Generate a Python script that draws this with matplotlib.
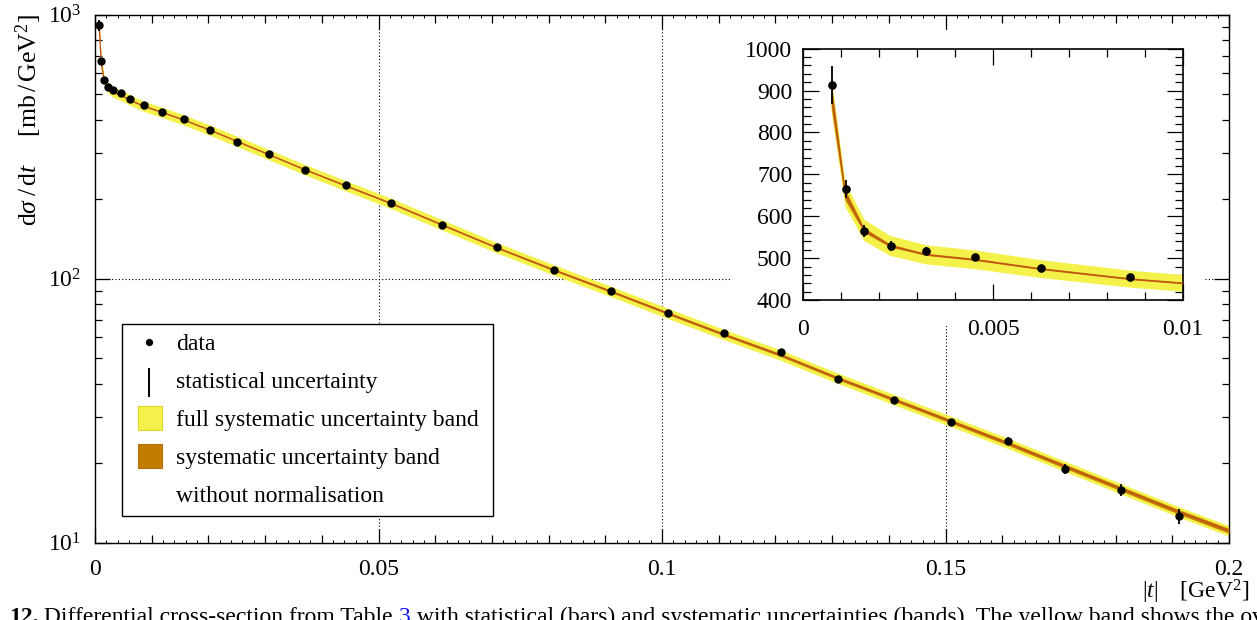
import matplotlib
matplotlib.use('Agg')
import matplotlib.pyplot as plt
import numpy as np
from matplotlib.patches import Rectangle
from matplotlib.lines import Line2D
from matplotlib.ticker import FixedLocator, MultipleLocator, FixedFormatter, NullFormatter

plt.rcParams['font.family'] = ['Liberation Serif', 'DejaVu Serif']
plt.rcParams['mathtext.fontset'] = 'custom'
plt.rcParams['mathtext.rm'] = 'Liberation Serif'
plt.rcParams['mathtext.it'] = 'Liberation Serif:italic'
plt.rcParams['mathtext.bf'] = 'Liberation Serif:bold'

# ---------------- data ----------------
t_data = [0.000745, 0.00111, 0.00161, 0.00230, 0.00324, 0.00453, 0.00626, 0.00861,
          0.0118, 0.0157, 0.0202, 0.0251, 0.0307, 0.0370, 0.0442, 0.0522, 0.0612,
          0.0709, 0.0809, 0.0910, 0.1010, 0.1109, 0.1210, 0.1310, 0.1410, 0.1510,
          0.1610, 0.1710, 0.1810, 0.1911]
dsig_data = [913, 665, 565, 530, 517, 503, 477, 454,
             428, 401, 367, 330, 296, 259, 226, 194, 159,
             131.5, 108, 90.1, 73.9, 62.1, 52.6, 41.6, 34.6, 28.7,
             24.3, 19.0, 15.9, 12.6]
stat_err = [44.6, 21.3, 14.0, 12.0, 8.8, 6.0, 6.0, 6.0,
            4.0, 4.0, 3.0, 3.0, 3.0, 2.5, 2.5, 2.0, 2.0,
            1.5, 1.3, 1.2, 1.0, 1.0, 0.9, 0.8, 0.8, 0.8,
            0.85, 0.85, 0.85, 0.83]

t_band = [0.000745, 0.00111, 0.00161, 0.00230, 0.00324, 0.00453, 0.00626, 0.00861,
          0.0118, 0.0157, 0.0202, 0.0251, 0.0307, 0.0370, 0.0442, 0.0522, 0.0612,
          0.0709, 0.0809, 0.0910, 0.1010, 0.1109, 0.1210, 0.1310, 0.1410, 0.1510,
          0.1610, 0.1710, 0.1810, 0.1911, 0.2000]
band_central = [890, 651, 566, 529, 508, 496, 474, 450,
                427, 399, 366, 331, 295, 259, 225, 193, 160,
                131, 108, 89.5, 74.0, 61.5, 51.3, 42.0, 34.8, 28.8,
                23.8, 19.5, 16.0, 13.1, 11.1]
full_sys_rel = [0.045] * 31
sys_rel = [0.035, 0.020, 0.010, 0.007, 0.005, 0.005, 0.005, 0.005,
           0.005, 0.005, 0.005, 0.005, 0.005, 0.006, 0.006, 0.007, 0.007,
           0.008, 0.009, 0.010, 0.011, 0.012, 0.013, 0.014, 0.015, 0.016,
           0.017, 0.018, 0.019, 0.020, 0.021]

main_xticks = [0, 0.05, 0.1, 0.15, 0.2]
main_xticklabels = ['0', '0.05', '0.1', '0.15', '0.2']
inset_xticks = [0, 0.005, 0.01]
inset_xticklabels = ['0', '0.005', '0.01']
inset_yticks = [400, 500, 600, 700, 800, 900, 1000]
inset_yticklabels = ['400', '500', '600', '700', '800', '900', '1000']

legend_labels = ['data', 'statistical uncertainty', 'full systematic uncertainty band',
                 'systematic uncertainty band', 'without normalisation']

caption_parts = [('12.', 'bold', 'black'),
                 (' Differential cross-section from Table ', 'normal', 'black'),
                 ('3', 'normal', '#1010ee'),
                 (' with statistical (bars) and systematic uncertainties (bands). The yellow band shows the overall',
                  'normal', 'black')]

YELLOW = '#f4f24a'
YELLOW_EDGE = '#dcd42a'
BROWN = '#c27d00'
LINE = '#c4501c'
FS = 17

W, H = 1257, 620


def fx(px):
    return px / W


def fy(py):
    return 1 - py / H


fig = plt.figure(figsize=(W / 100, H / 100), dpi=100)

# ---------------- main axes ----------------
L, R, T, B = 95, 1229, 14.6, 542.7
ax = fig.add_axes([fx(L), fy(B), fx(R) - fx(L), fy(T) - fy(B)])
ax.set_zorder(0)
ax.set_xlim(0, 0.2)
ax.set_yscale('log')
ax.set_ylim(10, 1000)

tb = np.array(t_band)
bc = np.array(band_central)
fsr = np.array(full_sys_rel)
sr = np.array(sys_rel)


def draw_content(a, ms):
    a.fill_between(tb, bc * (1 - fsr), bc * (1 + fsr), color=YELLOW, lw=0, zorder=2)
    a.fill_between(tb, bc * (1 - sr), bc * (1 + sr), color=BROWN, lw=0, zorder=3)
    a.plot(tb, bc, color=LINE, lw=0.9, zorder=4)
    a.errorbar(t_data, dsig_data, yerr=stat_err, fmt='o', color='black', ms=ms,
               elinewidth=1.3, capsize=0, zorder=5)


draw_content(ax, 5.0)

for xv in [0.05, 0.1, 0.15]:
    ax.axvline(xv, color='black', lw=0.8, ls=(0, (1, 2)), zorder=1)
ax.axhline(100, color='black', lw=0.8, ls=(0, (1, 2)), zorder=1)

ax.xaxis.set_major_locator(FixedLocator(main_xticks))
ax.xaxis.set_major_formatter(FixedFormatter(main_xticklabels))
ax.xaxis.set_minor_locator(MultipleLocator(0.01))
ax.tick_params(axis='both', which='both', direction='in', top=True, right=True, width=0.9,
               labelsize=FS)
ax.tick_params(axis='x', which='major', length=10, pad=12)
ax.tick_params(axis='x', which='minor', length=5.5)
ax.tick_params(axis='y', which='major', length=11, pad=10)
ax.tick_params(axis='y', which='minor', length=5)
ax.yaxis.set_minor_formatter(NullFormatter())
for s in ax.spines.values():
    s.set_linewidth(1.0)

for loc in ['bottom', 'top']:
    sec = ax.secondary_xaxis(loc)
    sec.set_xticks(np.arange(0, 0.2001, 0.002))
    sec.tick_params(direction='in', length=2.5, width=0.7, labelbottom=False, labeltop=False)
    for s in sec.spines.values():
        s.set_visible(False)

# ---------------- inset pad ----------------
pad = Rectangle((fx(732), fy(326)), fx(1205) - fx(732), fy(30) - fy(326),
                transform=fig.transFigure, facecolor='white', edgecolor='none', zorder=1)
fig.add_artist(pad)

# ---------------- inset axes ----------------
iL, iR, iT, iB = 803.4, 1182.9, 48.6, 300.1
axi = fig.add_axes([fx(iL), fy(iB), fx(iR) - fx(iL), fy(iT) - fy(iB)])
axi.set_zorder(2)
axi.set_xlim(0, 0.01)
axi.set_ylim(400, 1000)
draw_content(axi, 5.2)
axi.xaxis.set_major_locator(FixedLocator(inset_xticks))
axi.xaxis.set_major_formatter(FixedFormatter(inset_xticklabels))
axi.xaxis.set_minor_locator(MultipleLocator(0.001))
axi.yaxis.set_major_locator(FixedLocator(inset_yticks))
axi.yaxis.set_major_formatter(FixedFormatter(inset_yticklabels))
axi.yaxis.set_minor_locator(MultipleLocator(20))
axi.tick_params(axis='both', which='both', direction='in', top=True, right=True, width=0.9,
                labelsize=FS)
axi.tick_params(axis='both', which='major', length=11.5)
axi.tick_params(axis='both', which='minor', length=6)
axi.tick_params(axis='x', which='major', pad=13.5)
axi.tick_params(axis='y', which='major', pad=8)
for s in axi.spines.values():
    s.set_linewidth(1.2)

# ---------------- legend (drawn as a box) ----------------
box = Rectangle((fx(122), fy(516)), fx(493) - fx(122), fy(324) - fy(516),
                transform=fig.transFigure, facecolor='white', edgecolor='black', lw=1.0, zorder=3)
fig.add_artist(box)
rows = [342, 380, 418, 456, 494]
hx = 149
fig.add_artist(Line2D([fx(hx)], [fy(rows[0])], marker='o', ms=4.2, color='black', ls='none',
                      transform=fig.transFigure, zorder=4))
fig.add_artist(Line2D([fx(hx), fx(hx)], [fy(368.5), fy(396)], color='black', lw=1.4,
                      transform=fig.transFigure, zorder=4))
for r, fc, ec in [(rows[2], YELLOW, YELLOW_EDGE), (rows[3], BROWN, '#b87000')]:
    fig.add_artist(Rectangle((fx(137.5), fy(r + 12)), fx(24), 24 / H, transform=fig.transFigure,
                             facecolor=fc, edgecolor=ec, lw=0.8, zorder=4))
for r, lab in zip(rows, legend_labels):
    fig.text(fx(176), fy(r), lab, fontsize=FS, ha='left', va='center_baseline', zorder=5)

# ---------------- axis titles ----------------
fig.text(fx(29), fy(14.6),
         r'$\mathrm{d}\sigma\;/\,\mathrm{d}t\quad\;\;[\mathrm{mb\,/\,GeV^2}]$', rotation=90,
         ha='center', va='top', fontsize=18.5)
fig.text(fx(1249), fy(598), r'$|t|\quad\;[\mathrm{GeV^2}]$', ha='right', va='baseline', fontsize=17)

# ---------------- caption (cut by the figure edge) ----------------
renderer = fig.canvas.get_renderer()
xc = fx(9)
for txt, wt, col in caption_parts:
    tt = fig.text(xc, fy(622.5), txt, fontsize=FS, weight=wt, color=col, ha='left', va='baseline')
    bb = tt.get_window_extent(renderer)
    xc = bb.x1 / fig.bbox.width

fig.savefig('out.png', dpi=100)
